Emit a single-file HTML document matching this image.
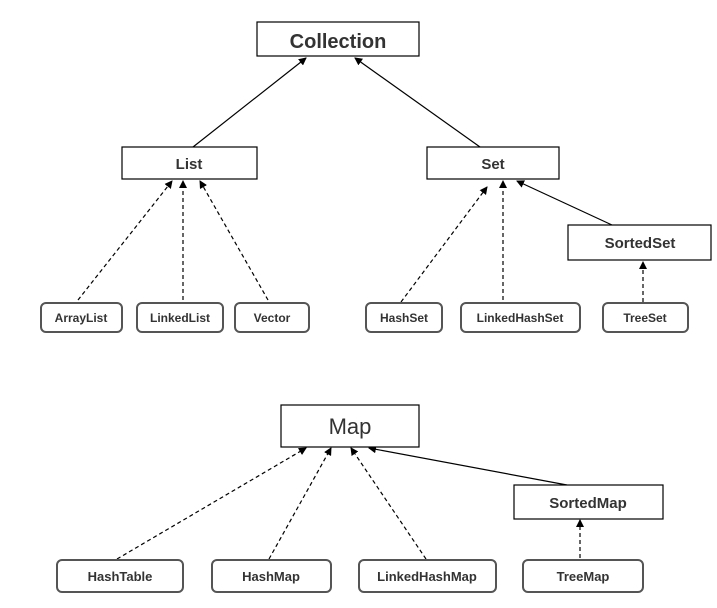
<!DOCTYPE html>
<html><head><meta charset="utf-8"><style>
body{margin:0;background:#fff;}
svg text{font-family:"Liberation Sans",sans-serif;fill:#333;text-anchor:middle;}
.t{font-size:12px;font-weight:bold;}
</style></head><body>
<svg width="717" height="603" viewBox="0 0 717 603" xmlns="http://www.w3.org/2000/svg">
<defs>
<marker id="a" markerWidth="8" markerHeight="8" refX="7" refY="4" orient="auto" markerUnits="userSpaceOnUse">
<path d="M0,0 L8,4 L0,8 z" fill="#000"/></marker>
</defs>
<g stroke="#000" stroke-width="1.2" fill="none">
<!-- solid -->
<line x1="193" y1="147" x2="306" y2="58" marker-end="url(#a)"/>
<line x1="480" y1="147" x2="355" y2="58" marker-end="url(#a)"/>
<line x1="612" y1="225" x2="517" y2="181" marker-end="url(#a)"/>
<line x1="567" y1="485" x2="369" y2="448" marker-end="url(#a)"/>
<!-- dashed -->
<g stroke-dasharray="4,3">
<line x1="78" y1="300" x2="172" y2="181" marker-end="url(#a)"/>
<line x1="183" y1="300" x2="183" y2="181" marker-end="url(#a)"/>
<line x1="268" y1="300" x2="200" y2="181" marker-end="url(#a)"/>
<line x1="401" y1="302" x2="487" y2="187" marker-end="url(#a)"/>
<line x1="503" y1="300" x2="503" y2="181" marker-end="url(#a)"/>
<line x1="643" y1="302" x2="643" y2="262" marker-end="url(#a)"/>
<line x1="117" y1="559" x2="306" y2="448" marker-end="url(#a)"/>
<line x1="269" y1="559" x2="331" y2="448" marker-end="url(#a)"/>
<line x1="426" y1="559" x2="351" y2="448" marker-end="url(#a)"/>
<line x1="580" y1="558" x2="580" y2="520" marker-end="url(#a)"/>
</g>
</g>
<g fill="#fff" stroke="#000" stroke-width="1.2">
<rect x="257" y="22" width="162" height="34"/>
<rect x="122" y="147" width="135" height="32"/>
<rect x="427" y="147" width="132" height="32"/>
<rect x="568" y="225" width="143" height="35"/>
<rect x="281" y="405" width="138" height="42"/>
<rect x="514" y="485" width="149" height="34"/>
</g>
<g fill="#fff" stroke="#555" stroke-width="2">
<rect x="41" y="303" width="81" height="29" rx="5"/>
<rect x="137" y="303" width="86" height="29" rx="5"/>
<rect x="235" y="303" width="74" height="29" rx="5"/>
<rect x="366" y="303" width="76" height="29" rx="5"/>
<rect x="461" y="303" width="119" height="29" rx="5"/>
<rect x="603" y="303" width="85" height="29" rx="5"/>
<rect x="57" y="560" width="126" height="32" rx="5"/>
<rect x="212" y="560" width="119" height="32" rx="5"/>
<rect x="359" y="560" width="137" height="32" rx="5"/>
<rect x="523" y="560" width="120" height="32" rx="5"/>
</g>
<text x="338" y="48" style="font-size:20px;font-weight:bold">Collection</text>
<text x="189" y="169" style="font-size:15px;font-weight:bold">List</text>
<text x="493" y="169" style="font-size:15px;font-weight:bold">Set</text>
<text x="640" y="248" style="font-size:15px;font-weight:bold">SortedSet</text>
<text x="350" y="434" style="font-size:22px">Map</text>
<text x="588" y="508" style="font-size:15px;font-weight:bold">SortedMap</text>
<text class="t" x="81" y="322">ArrayList</text>
<text class="t" x="180" y="322">LinkedList</text>
<text class="t" x="272" y="322">Vector</text>
<text class="t" x="404" y="322">HashSet</text>
<text class="t" x="520" y="322">LinkedHashSet</text>
<text class="t" x="645" y="322">TreeSet</text>
<text class="t" x="120" y="581" style="font-size:13px">HashTable</text>
<text class="t" x="271" y="581" style="font-size:13px">HashMap</text>
<text class="t" x="427" y="581" style="font-size:13px">LinkedHashMap</text>
<text class="t" x="583" y="581" style="font-size:13px">TreeMap</text>
</svg>
</body></html>
